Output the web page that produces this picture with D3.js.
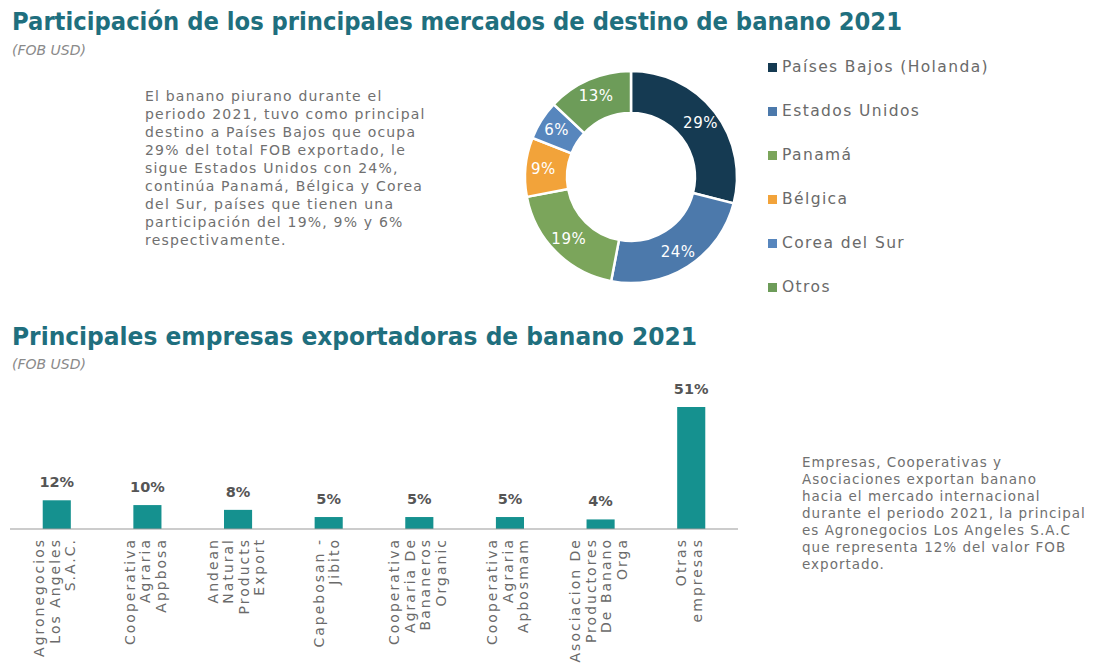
<!DOCTYPE html>
<html>
<head>
<meta charset="utf-8">
<script src="https://cdn.jsdelivr.net/npm/d3@7"></script>
<style>
  body { margin: 0; background: #fff; }
  text { font-family: "DejaVu Sans", sans-serif; }
</style>
</head>
<body>
<svg width="1104" height="666"></svg>
<script>
// Donut data
const markets = ["Países Bajos (Holanda)", "Estados Unidos", "Panamá", "Bélgica", "Corea del Sur", "Otros"];
const marketShare = [29, 24, 19, 9, 6, 13];
const marketColors = ["#153a52", "#4c79ab", "#7ba55b", "#f2a33a", "#5786bd", "#6d9c59"];

// Bar data
const companies = [
  ["Agronegocios", "Los Angeles", "S.A.C."],
  ["Cooperativa", "Agraria", "Appbosa"],
  ["Andean", "Natural", "Products", "Export"],
  ["Capebosan -", "Jibito"],
  ["Cooperativa", "Agraria De", "Bananeros", "Organic"],
  ["Cooperativa", "Agraria", "Apbosmam"],
  ["Asociacion De", "Productores", "De Banano", "Orga"],
  ["Otras", "empresas"]
];
const companyShare = [12, 10, 8, 5, 5, 5, 4, 51];

const text1 = [
  "El banano piurano durante el",
  "periodo 2021, tuvo como principal",
  "destino a Países Bajos que ocupa",
  "29% del total FOB exportado, le",
  "sigue Estados Unidos con 24%,",
  "continúa Panamá, Bélgica y Corea",
  "del Sur, países que tienen una",
  "participación del 19%, 9% y 6%",
  "respectivamente."
];
const text2 = [
  "Empresas, Cooperativas y",
  "Asociaciones exportan banano",
  "hacia el mercado internacional",
  "durante el periodo 2021, la principal",
  "es Agronegocios Los Angeles S.A.C",
  "que representa 12% del valor FOB",
  "exportado."
];

const svg = d3.select("svg");
const teal = "#1f6f7e";

// Titles
function title(txt, y, len) {
  svg.append("text")
    .attr("x", 12).attr("y", y)
    .attr("textLength", len).attr("lengthAdjust", "spacingAndGlyphs")
    .style("font-size", "24px").style("font-weight", "bold")
    .style("fill", teal)
    .text(txt);
}
function subtitle(y) {
  svg.append("text")
    .attr("x", 12).attr("y", y)
    .style("font-size", "14px").style("font-style", "italic")
    .style("fill", "#8a8a8a")
    .text("(FOB USD)");
}
title("Participación de los principales mercados de destino de banano 2021", 30, 890);
subtitle(55);
title("Principales empresas exportadoras de banano 2021", 345, 685);
subtitle(369);

// Paragraphs
function para(lines, x, y0, dy, size, ls) {
  svg.append("g").selectAll("text")
    .data(lines)
    .join("text")
    .attr("x", x)
    .attr("y", (d, i) => y0 + i * dy)
    .style("font-size", size + "px")
    .style("letter-spacing", ls + "px")
    .style("fill", "#707070")
    .text(d => d);
}
para(text1, 145, 101, 18, 14, 1.2);
para(text2, 802, 467, 17, 13.5, 1.0);

// Donut
const cx = 631, cy = 177;
const pie = d3.pie().sort(null).value(d => d)(marketShare);
const arc = d3.arc().innerRadius(64).outerRadius(106);
const labelArc = d3.arc().innerRadius(88).outerRadius(88);
const donut = svg.append("g").attr("transform", `translate(${cx},${cy})`);
donut.selectAll("path")
  .data(pie)
  .join("path")
  .attr("d", arc)
  .attr("fill", (d, i) => marketColors[i])
  .attr("stroke", "#fff")
  .attr("stroke-width", 2.5);
donut.selectAll("text")
  .data(pie)
  .join("text")
  .attr("transform", d => `translate(${labelArc.centroid(d)})`)
  .attr("text-anchor", "middle")
  .attr("dy", "0.35em")
  .style("font-size", "15px")
  .style("letter-spacing", "0.5px")
  .style("fill", "#fff")
  .text(d => d.data + "%");

// Legend
const legend = svg.append("g").selectAll("g")
  .data(markets)
  .join("g")
  .attr("transform", (d, i) => `translate(768,${67 + i * 44})`);
legend.append("rect")
  .attr("x", 0).attr("y", -4).attr("width", 9).attr("height", 9)
  .attr("fill", (d, i) => marketColors[i]);
legend.append("text")
  .attr("x", 14).attr("dy", "0.35em")
  .style("font-size", "15.5px")
  .style("letter-spacing", "1.4px")
  .style("fill", "#6a6a6a")
  .text(d => d);

// Bars
const x = d3.scaleBand()
  .domain(d3.range(companies.length))
  .range([11, 737])
  .paddingInner(0.69)
  .paddingOuter(0.35);
const y = d3.scaleLinear().domain([0, 51]).range([529, 407]);

svg.append("g").selectAll("rect")
  .data(companyShare)
  .join("rect")
  .attr("x", (d, i) => x(i))
  .attr("y", d => y(d))
  .attr("width", x.bandwidth())
  .attr("height", d => y(0) - y(d))
  .attr("fill", "#15918f");

svg.append("g").selectAll("text")
  .data(companyShare)
  .join("text")
  .attr("x", (d, i) => x(i) + x.bandwidth() / 2)
  .attr("y", d => y(d) - 13)
  .attr("text-anchor", "middle")
  .style("font-size", "14.5px")
  .style("font-weight", "bold")
  .style("fill", "#555")
  .text(d => d + "%");

svg.append("line")
  .attr("x1", 10).attr("x2", 738)
  .attr("y1", y(0)).attr("y2", y(0))
  .attr("stroke", "#9a9a9a").attr("stroke-width", 1.2);

// Rotated category labels
const lab = svg.append("g").selectAll("g")
  .data(companies)
  .join("g")
  .attr("transform", (d, i) => {
    const c = x(i) + x.bandwidth() / 2 - 2;
    return `translate(${c},538) rotate(-90)`;
  });
lab.selectAll("text")
  .data(d => d.map((t, j) => ({ t, j, n: d.length })))
  .join("text")
  .attr("x", 0)
  .attr("y", d => (d.j - (d.n - 1) / 2) * 15.5 + 5)
  .attr("text-anchor", "end")
  .style("font-size", "14px")
  .style("letter-spacing", "2px")
  .style("fill", "#6a6a6a")
  .text(d => d.t);
</script>
</body>
</html>
